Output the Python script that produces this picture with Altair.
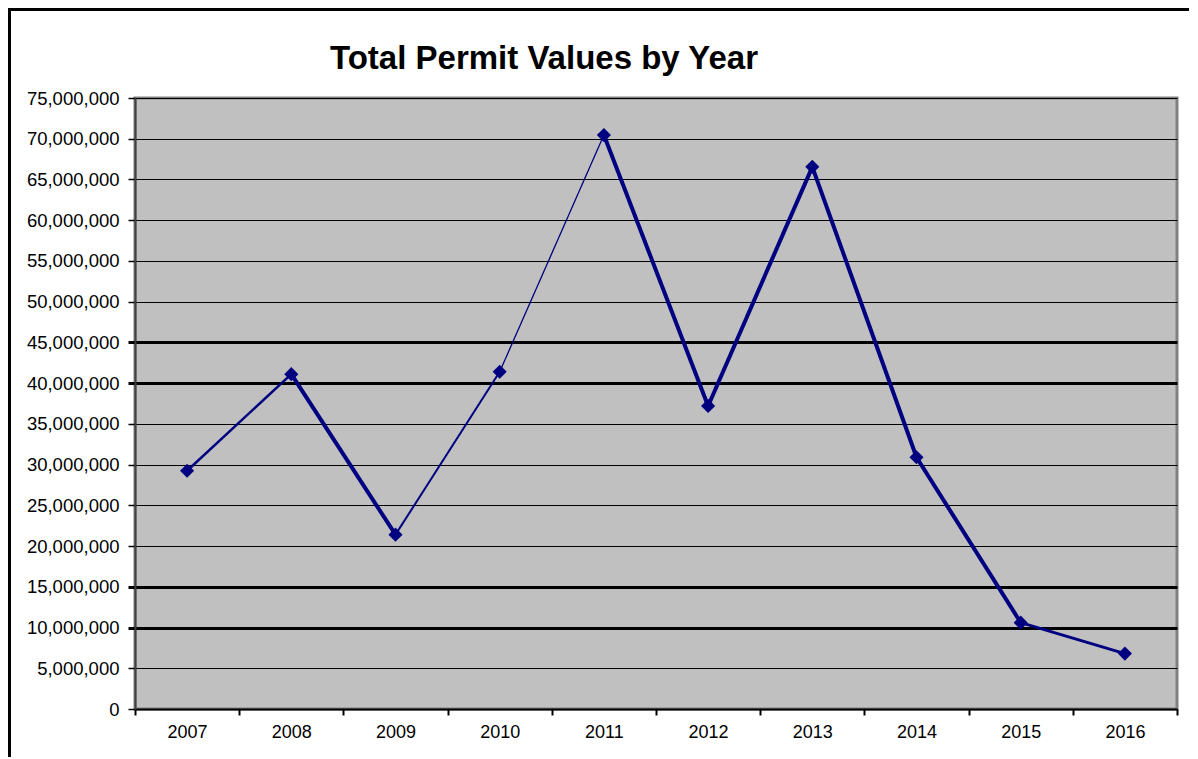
import altair as alt
import pandas as pd

# ---- data ----
YEARS = ["2007", "2008", "2009", "2010", "2011", "2012", "2013", "2014", "2015", "2016"]
VALUES = [29250000, 41100000, 21400000, 41400000, 70450000,
          37200000, 66550000, 30900000, 10600000, 6800000]
Y_TICKS = [0, 5000000, 10000000, 15000000, 20000000, 25000000, 30000000, 35000000,
           40000000, 45000000, 50000000, 55000000, 60000000, 65000000, 70000000, 75000000]
TITLE = "Total Permit Values by Year"

# ---- style ----
SEG_WIDTHS = [2.5, 4, 2, 1.3, 4, 4, 4, 4, 3]
THICK_GRID = [10000000, 15000000, 40000000, 45000000]
FONT = "Liberation Sans"
NAVY = "#000080"
W, H = 1042, 611

points_df = pd.DataFrame({"year": YEARS, "value": VALUES})
rows = []
for i in range(len(YEARS) - 1):
    for j in (i, i + 1):
        rows.append({"seg": i, "year": YEARS[j], "value": VALUES[j], "order": j})
seg_df = pd.DataFrame(rows)

thick_test = "indexof([" + ",".join(str(v) for v in THICK_GRID) + "], datum.value) >= 0"

x_enc = alt.X(
    "year:N", sort=YEARS,
    scale=alt.Scale(type="band", paddingInner=0, paddingOuter=0),
    axis=alt.Axis(
        title=None, labelAngle=0, labelFont=FONT, labelFontSize=18, labelColor="black",
        tickBand="extent", ticks=True, tickColor="black", tickSize=6, tickWidth=2,
        domainColor="black", domainWidth=2, labelPadding=8, grid=False,
    ),
)
y_enc = alt.Y(
    "value:Q",
    scale=alt.Scale(domain=[0, 75000000], nice=False, zero=True),
    axis=alt.Axis(
        title=None, values=Y_TICKS, format=",d", labelFont=FONT, labelFontSize=18.5,
        labelColor="black", labelPadding=9, tickSize=7, tickColor="black",
        tickWidth={"condition": {"test": thick_test, "value": 3}, "value": 1.5},
        grid=True, gridColor="black", gridOpacity=1,
        gridWidth={"condition": {"test": thick_test, "value": 3}, "value": 1},
        domainColor="#404040", domainWidth=2,
    ),
)

line = alt.Chart(seg_df).mark_line(color=NAVY, strokeJoin="round").encode(
    x=x_enc, y=y_enc,
    detail="seg:N",
    order="order:Q",
    strokeWidth=alt.StrokeWidth(
        "seg:N",
        scale=alt.Scale(type="ordinal", domain=list(range(len(SEG_WIDTHS))), range=SEG_WIDTHS),
        legend=None,
    ),
)

pts = alt.Chart(points_df).mark_point(
    shape="diamond", filled=True, size=200, color=NAVY, opacity=1
).encode(x=x_enc, y=y_enc)

frame_df = pd.DataFrame({"k": [0]})
frame_top = alt.Chart(frame_df).mark_rule(color="black", strokeWidth=3).encode(
    x=alt.value(-128), x2=alt.value(1070), y=alt.value(-88.5)
)
frame_left = alt.Chart(frame_df).mark_rule(color="black", strokeWidth=3).encode(
    x=alt.value(-125.5), y=alt.value(-90), y2=alt.value(700)
)

chart = alt.layer(frame_top, frame_left, line, pts).properties(
    width=W, height=H,
    title=alt.TitleParams(
        TITLE, font=FONT, fontSize=33, fontWeight="bold", color="black",
        anchor="start", frame="group", dx=195, baseline="alphabetic", offset=-95,
    ),
    autosize=alt.AutoSizeParams(type="none"),
    padding={"left": 127, "top": 90, "right": 12, "bottom": 48},
).configure(background="white").configure_view(
    fill="#C0C0C0", stroke="#808080", strokeWidth=3
)

chart.save("out.html", embed_options={"renderer": "svg", "actions": False})
